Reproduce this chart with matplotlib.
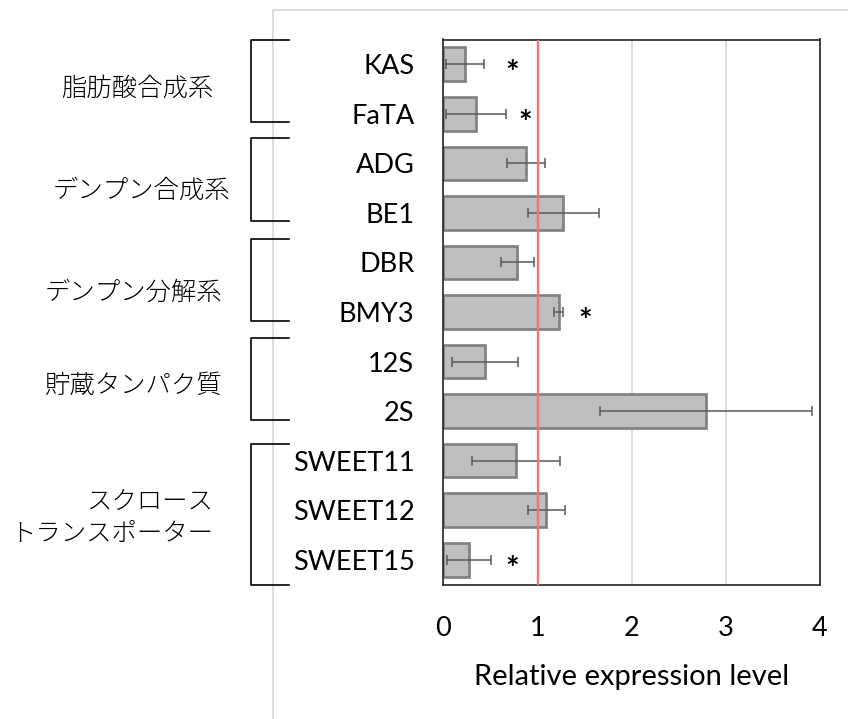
import numpy as np
import matplotlib
matplotlib.use("Agg")
import matplotlib.pyplot as plt
from matplotlib.lines import Line2D

plt.rcParams['font.family'] = ['Lato', 'Noto Sans CJK JP', 'DejaVu Sans']

# Genes (top to bottom), mean relative expression and error
genes = ['KAS', 'FaTA', 'ADG', 'BE1', 'DBR', 'BMY3', '12S', '2S',
         'SWEET11', 'SWEET12', 'SWEET15']
values = [0.23, 0.35, 0.88, 1.275, 0.785, 1.225, 0.44, 2.79, 0.77, 1.095, 0.275]
errors = [0.20, 0.32, 0.20, 0.375, 0.175, 0.045, 0.35, 1.13, 0.465, 0.195, 0.235]
significant = [True, True, False, False, False, True, False, False, False, False, True]

# Functional groups
group_labels = ['脂肪酸合成系', 'デンプン合成系', 'デンプン分解系', '貯蔵タンパク質',
                'スクロース\nトランスポーター']

xticks = [0, 1, 2, 3, 4]
xlabel = 'Relative expression level'

# ---- layout (figure pixels) ----
W, H = 848, 719
def fx(px):
    return px / W
def fy(py):
    return 1 - py / H

ax_left, ax_right, ax_top, ax_bottom = 443.5, 819.5, 39.5, 584.5
bracket_spans = [(40, 122), (138, 221), (239, 321), (338, 420), (444, 585)]
group_text_pos = [(213, 88), (230, 190), (222, 292), (223, 386), (213, 518)]
# horizontal position of the significance marks (data units)
star_x = {'KAS': 0.73, 'FaTA': 0.87, 'BMY3': 1.51, 'SWEET15': 0.73}

fig = plt.figure(figsize=(W / 100, H / 100), dpi=100)
ax = fig.add_axes([fx(ax_left), fy(ax_bottom),
                   (ax_right - ax_left) / W, (ax_bottom - ax_top) / H])

y = np.arange(len(genes))
ax.barh(y, values, height=0.68, color='#bfbfbf', edgecolor='#7f7f7f',
        linewidth=1.9, zorder=2)
ax.errorbar(values, y, xerr=errors, fmt='none', ecolor='#595959',
            elinewidth=1.1, capsize=3.8, capthick=1.1, zorder=4)
ax.axvline(1, color='#f07575', lw=1.7, zorder=5)

for g, yi, s in zip(genes, y, significant):
    if s:
        ax.text(star_x[g], yi + 0.21, '*', ha='center', va='center',
                fontsize=23, fontweight='bold', color='black', zorder=6)

ax.set_xlim(0, 4)
ax.set_ylim(len(genes) - 0.5, -0.5)
ax.set_xticks(xticks)
ax.set_xticklabels([str(t) for t in xticks])
ax.set_yticks(y)
ax.set_yticklabels(genes)
ax.grid(axis='x', color='#d9d9d9', lw=1.3, zorder=0)
ax.set_axisbelow(True)
ax.tick_params(axis='x', length=0, pad=23, labelsize=19.5)
ax.tick_params(axis='y', length=0, pad=21, labelsize=19.5)
ax.set_xlabel(xlabel, fontsize=21, labelpad=16)
for sp in ax.spines.values():
    sp.set_color('#262626')
    sp.set_linewidth(1.2)

# outer chart-area border (left and top edges)
fig.add_artist(Line2D([fx(273), fx(273), fx(848)], [fy(719), fy(10), fy(10)],
                      color='#d9d9d9', lw=1.3))

# group brackets
for (t, b) in bracket_spans:
    fig.add_artist(Line2D([fx(289), fx(251), fx(251), fx(289)],
                          [fy(t), fy(t), fy(b), fy(b)], color='black', lw=1.2))

for lab, (px, py) in zip(group_labels, group_text_pos):
    fig.text(fx(px), fy(py), lab, ha='right', va='center', fontsize=18.3,
             family=['Noto Sans CJK JP', 'DejaVu Sans'], fontweight='light',
             multialignment='right', linespacing=1.25)

fig.savefig('out.png', dpi=100)
